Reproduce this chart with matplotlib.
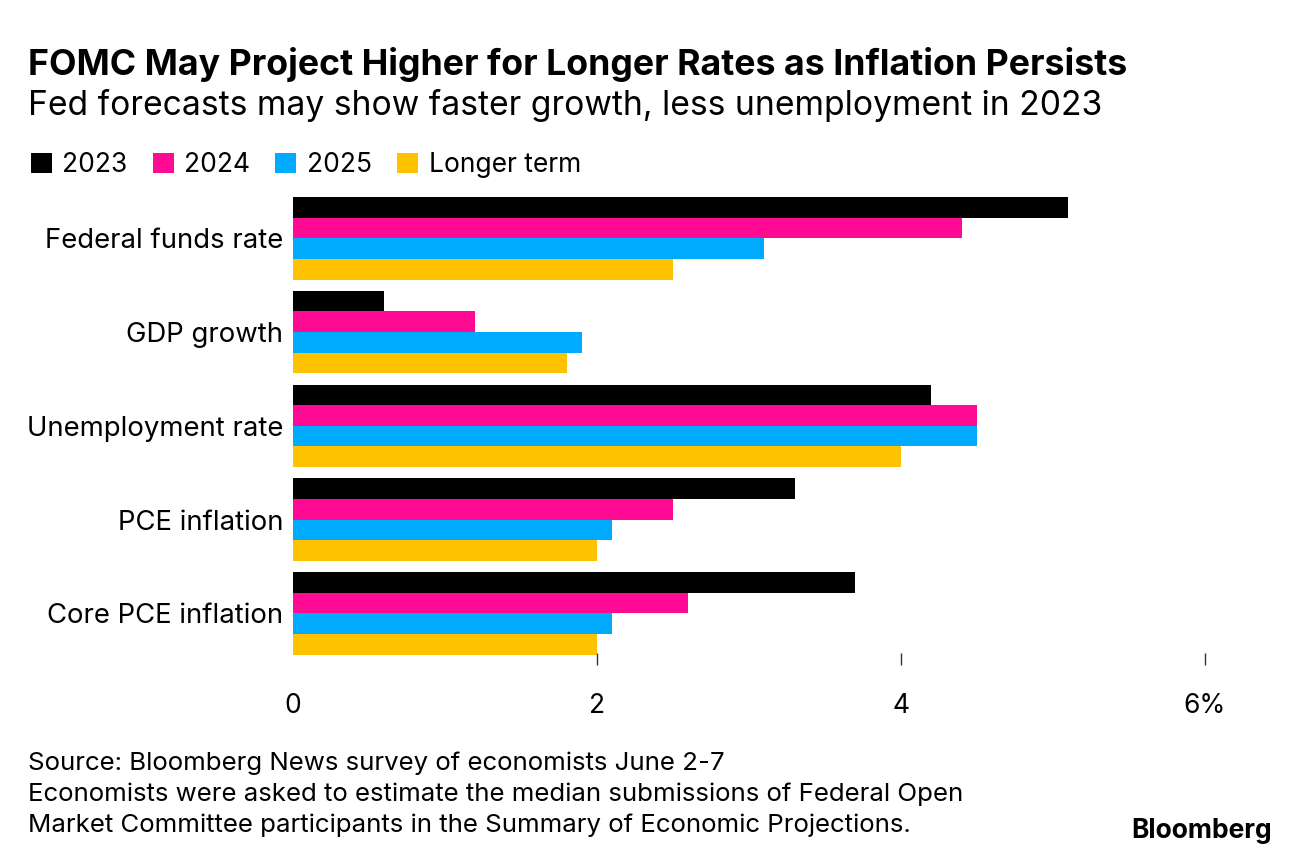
import numpy as np
import matplotlib
matplotlib.use("Agg")
import matplotlib.pyplot as plt
from matplotlib.patches import Patch

plt.rcParams['font.family'] = ['Inter', 'DejaVu Sans']

categories = ["Federal funds rate", "GDP growth", "Unemployment rate",
              "PCE inflation", "Core PCE inflation"]
series = ["2023", "2024", "2025", "Longer term"]
v2023 = [5.1, 0.6, 4.2, 3.3, 3.7]
v2024 = [4.4, 1.2, 4.5, 2.5, 2.6]
v2025 = [3.1, 1.9, 4.5, 2.1, 2.1]
vlonger = [2.5, 1.8, 4.0, 2.0, 2.0]
xticks = [0, 2, 4, 6]
xticklabels = ["0", "2", "4", "6%"]

colors = ["#000000", "#FF0A93", "#00AAFF", "#FFC200"]
values = [v2023, v2024, v2025, vlonger]

fig = plt.figure(figsize=(12.96, 8.6), dpi=100)
W, H = 1296, 860
ax = fig.add_axes([293 / W, 1 - 665 / H, 912 / W, 468 / H])

y = np.arange(len(categories))
h = 0.22
offsets = [-1.5 * h, -0.5 * h, 0.5 * h, 1.5 * h]
for vals, off, c in zip(values, offsets, colors):
    ax.barh(y + off, vals, height=h, color=c, linewidth=0)

ax.set_xlim(0, 6)
ax.set_ylim(4.55, -0.44)
ax.set_yticks(y)
ax.set_yticklabels(categories, fontsize=19.8)
ax.set_xticks(xticks)
ax.set_xticklabels(xticklabels, fontsize=19)
ax.tick_params(axis='y', length=0, pad=7)
ax.tick_params(axis='x', direction='in', length=8.6, width=1, color='#333333', pad=20)
ax.xaxis.get_major_ticks()[0].tick1line.set_visible(False)
for s in ax.spines.values():
    s.set_visible(False)

fig.text(28 / W, 1 - 75 / H, "FOMC May Project Higher for Longer Rates as Inflation Persists",
         fontsize=25.7, fontweight='bold', va='baseline', ha='left')
fig.text(28 / W, 1 - 115 / H, "Fed forecasts may show faster growth, less unemployment in 2023",
         fontsize=24.2, va='baseline', ha='left')

handles = [Patch(facecolor=c, edgecolor='none') for c in colors]
fig.legend(handles, series, loc='center left', bbox_to_anchor=(20 / W, 1 - 165 / H),
           ncol=4, frameon=False, fontsize=19, handlelength=0.8, handleheight=0.8,
           handletextpad=0.4, columnspacing=0.95, borderaxespad=0)

footer = ["Source: Bloomberg News survey of economists June 2-7",
          "Economists were asked to estimate the median submissions of Federal Open",
          "Market Committee participants in the Summary of Economic Projections."]
for i, line in enumerate(footer):
    fig.text(28 / W, 1 - (770 + 31 * i) / H, line, fontsize=18.6, va='baseline', ha='left')
fig.text(1272 / W, 1 - 838 / H, "Bloomberg", fontsize=19, fontweight='bold',
         va='baseline', ha='right')

fig.savefig("out.png", dpi=100)
